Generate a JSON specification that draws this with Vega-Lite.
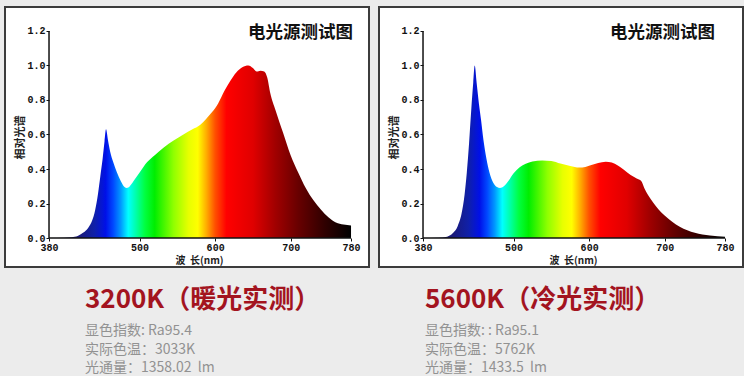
{
  "$schema": "https://vega.github.io/schema/vega-lite/v6.json",
  "background": "#ececec",
  "padding": {"left": 4, "top": 6, "right": 0, "bottom": 0},
  "spacing": 8,
  "config": {
    "view": {"stroke": "#3c3c3c", "strokeWidth": 2, "fill": "white"},
    "axis": {
      "domain": false, "grid": false,
      "labelFont": "Liberation Mono", "labelFontWeight": "bold", "labelFontSize": 10, "labelColor": "#111",
      "tickColor": "#111", "tickSize": 3, "tickWidth": 1, "labelPadding": 1,
      "labelFlush": false, "labelOverlap": false, "labelBound": false,
      "titleFont": "Noto Sans CJK SC", "titleFontWeight": "bold", "titleFontSize": 11, "titleColor": "#222"
    },
    "title": {
      "orient": "bottom", "anchor": "start", "offset": 20,
      "font": "Noto Sans CJK SC", "fontSize": 26, "fontWeight": "bold", "color": "#a3141f",
      "subtitleFont": "Noto Sans CJK SC", "subtitleFontSize": 14, "subtitleColor": "#929292",
      "subtitleLineHeight": 18.5, "subtitlePadding": 11
    }
  },
  "hconcat": [
    {
      "width": 364, "height": 260,
      "title": {"text": "3200K（暖光实测）", "subtitle": ["显色指数: Ra95.4", "实际色温：3033K", "光通量：1358.02\u00a0\u00a0lm"], "dx": 80},
      "layer": [
        {
          "data": {"values": [
            {"nm": 380, "v": 0}, {"nm": 400, "v": 0.002}, {"nm": 410, "v": 0.005}, {"nm": 418, "v": 0.012},
            {"nm": 425, "v": 0.03}, {"nm": 432, "v": 0.06}, {"nm": 437, "v": 0.1}, {"nm": 441, "v": 0.16},
            {"nm": 445, "v": 0.26}, {"nm": 448, "v": 0.36}, {"nm": 451, "v": 0.46}, {"nm": 453.5, "v": 0.56},
            {"nm": 455.5, "v": 0.63}, {"nm": 458, "v": 0.57}, {"nm": 461, "v": 0.5}, {"nm": 465, "v": 0.44},
            {"nm": 470, "v": 0.38}, {"nm": 475, "v": 0.33}, {"nm": 480, "v": 0.295}, {"nm": 483, "v": 0.29},
            {"nm": 487, "v": 0.3}, {"nm": 492, "v": 0.33}, {"nm": 500, "v": 0.38}, {"nm": 510, "v": 0.44},
            {"nm": 520, "v": 0.48}, {"nm": 532, "v": 0.525}, {"nm": 545, "v": 0.565}, {"nm": 558, "v": 0.6},
            {"nm": 570, "v": 0.63}, {"nm": 580, "v": 0.655}, {"nm": 588, "v": 0.69}, {"nm": 596, "v": 0.73},
            {"nm": 604, "v": 0.78}, {"nm": 612, "v": 0.85}, {"nm": 620, "v": 0.91}, {"nm": 628, "v": 0.96},
            {"nm": 636, "v": 0.99}, {"nm": 644, "v": 1.0}, {"nm": 650, "v": 0.985}, {"nm": 655, "v": 0.965},
            {"nm": 660, "v": 0.97}, {"nm": 665, "v": 0.965}, {"nm": 669, "v": 0.93}, {"nm": 673, "v": 0.84},
            {"nm": 680, "v": 0.74}, {"nm": 690, "v": 0.61}, {"nm": 700, "v": 0.48}, {"nm": 710, "v": 0.38},
            {"nm": 720, "v": 0.29}, {"nm": 730, "v": 0.22}, {"nm": 740, "v": 0.165}, {"nm": 750, "v": 0.12},
            {"nm": 760, "v": 0.09}, {"nm": 770, "v": 0.078}, {"nm": 780, "v": 0.072}
          ]},
          "mark": {"type": "area", "interpolate": "monotone", "color": {
            "gradient": "linear", "x1": 0, "x2": 1, "y1": 0, "y2": 0,
            "stops": [
              {"offset": 0, "color": "#10104a"}, {"offset": 0.1, "color": "#1a1a7a"},
              {"offset": 0.15, "color": "#1020a8"}, {"offset": 0.1875, "color": "#0010e8"},
              {"offset": 0.2125, "color": "#0048ff"}, {"offset": 0.2375, "color": "#0098ff"},
              {"offset": 0.2625, "color": "#00ffff"}, {"offset": 0.2875, "color": "#00ffaa"},
              {"offset": 0.3175, "color": "#00ff40"}, {"offset": 0.35, "color": "#00ee00"},
              {"offset": 0.4125, "color": "#90ff00"}, {"offset": 0.4625, "color": "#e8ff00"},
              {"offset": 0.4925, "color": "#ffff00"}, {"offset": 0.52, "color": "#ffb000"},
              {"offset": 0.55, "color": "#ff5000"}, {"offset": 0.5875, "color": "#ff0000"},
              {"offset": 0.675, "color": "#e00000"}, {"offset": 0.75, "color": "#a00000"},
              {"offset": 0.825, "color": "#680000"}, {"offset": 0.9125, "color": "#300000"},
              {"offset": 1, "color": "#000000"}
            ]}},
          "encoding": {
            "x": {"field": "nm", "type": "quantitative", "scale": {"domain": [321.7, 803.8], "nice": false, "zero": false},
                  "axis": {"values": [380, 500, 600, 700, 780], "offset": -29, "title": "波\u00a0\u00a0长(nm)", "titleX": 194, "titlePadding": 3, "titleFontSize": 10}},
            "y": {"field": "v", "type": "quantitative", "scale": {"domain": [-0.168, 1.339], "nice": false, "zero": false},
                  "axis": {"values": [0, 0.2, 0.4, 0.6, 0.8, 1.0, 1.2], "format": ".1f", "offset": -44, "title": "相对光谱", "titlePadding": 1}}
          }
        },
        {
          "data": {"values": [{"x": 380, "y": 0, "x2": 780, "y2": 0}, {"x": 380, "y": 0, "x2": 380, "y2": 1.2}]},
          "mark": {"type": "rule", "color": "#111", "strokeWidth": 1.5},
          "encoding": {
            "x": {"field": "x", "type": "quantitative"}, "x2": {"field": "x2"},
            "y": {"field": "y", "type": "quantitative"}, "y2": {"field": "y2"}
          }
        },
        {
          "data": {"values": [{"x": 780, "y": 1.2, "label": "电光源测试图"}]},
          "mark": {"type": "text", "align": "right", "baseline": "middle", "dx": 2, "dy": 2, "font": "Noto Sans CJK SC", "fontWeight": "bold", "fontSize": 17.5, "color": "#111"},
          "encoding": {
            "x": {"field": "x", "type": "quantitative"},
            "y": {"field": "y", "type": "quantitative"},
            "text": {"field": "label"}
          }
        }
      ]
    },
    {
      "width": 364, "height": 260,
      "title": {"text": "5600K（冷光实测）", "subtitle": ["显色指数: : Ra95.1", "实际色温：5762K", "光通量：1433.5\u00a0\u00a0lm"], "dx": 46},
      "layer": [
        {
          "data": {"values": [
            {"nm": 380, "v": 0}, {"nm": 400, "v": 0.002}, {"nm": 412, "v": 0.008}, {"nm": 420, "v": 0.03},
            {"nm": 426, "v": 0.07}, {"nm": 431, "v": 0.14}, {"nm": 435, "v": 0.25}, {"nm": 438, "v": 0.38},
            {"nm": 441, "v": 0.55}, {"nm": 444, "v": 0.75}, {"nm": 446.5, "v": 0.9}, {"nm": 448.5, "v": 1.0},
            {"nm": 451, "v": 0.9}, {"nm": 454, "v": 0.78}, {"nm": 457, "v": 0.68}, {"nm": 460, "v": 0.57},
            {"nm": 464, "v": 0.46}, {"nm": 468, "v": 0.38}, {"nm": 473, "v": 0.32}, {"nm": 478, "v": 0.295},
            {"nm": 482, "v": 0.29}, {"nm": 487, "v": 0.3}, {"nm": 493, "v": 0.33}, {"nm": 500, "v": 0.375},
            {"nm": 508, "v": 0.41}, {"nm": 516, "v": 0.43}, {"nm": 525, "v": 0.443}, {"nm": 538, "v": 0.45},
            {"nm": 550, "v": 0.447}, {"nm": 562, "v": 0.432}, {"nm": 575, "v": 0.418}, {"nm": 587, "v": 0.408},
            {"nm": 595, "v": 0.412}, {"nm": 603, "v": 0.423}, {"nm": 612, "v": 0.435}, {"nm": 622, "v": 0.442},
            {"nm": 630, "v": 0.437}, {"nm": 638, "v": 0.42}, {"nm": 646, "v": 0.395}, {"nm": 655, "v": 0.365},
            {"nm": 663, "v": 0.345}, {"nm": 669, "v": 0.33}, {"nm": 673, "v": 0.29}, {"nm": 678, "v": 0.25},
            {"nm": 685, "v": 0.205}, {"nm": 692, "v": 0.165}, {"nm": 700, "v": 0.13}, {"nm": 710, "v": 0.095},
            {"nm": 720, "v": 0.066}, {"nm": 730, "v": 0.045}, {"nm": 740, "v": 0.03}, {"nm": 750, "v": 0.02},
            {"nm": 760, "v": 0.014}, {"nm": 780, "v": 0.008}
          ]},
          "mark": {"type": "area", "interpolate": "monotone", "color": {
            "gradient": "linear", "x1": 0, "x2": 1, "y1": 0, "y2": 0,
            "stops": [
              {"offset": 0, "color": "#10104a"}, {"offset": 0.1, "color": "#1a1a7a"},
              {"offset": 0.15, "color": "#1020a8"}, {"offset": 0.1875, "color": "#0010e8"},
              {"offset": 0.2125, "color": "#0048ff"}, {"offset": 0.2375, "color": "#0098ff"},
              {"offset": 0.2625, "color": "#00ffff"}, {"offset": 0.2875, "color": "#00ffaa"},
              {"offset": 0.3175, "color": "#00ff40"}, {"offset": 0.35, "color": "#00ee00"},
              {"offset": 0.4125, "color": "#90ff00"}, {"offset": 0.4625, "color": "#e8ff00"},
              {"offset": 0.4925, "color": "#ffff00"}, {"offset": 0.52, "color": "#ffb000"},
              {"offset": 0.55, "color": "#ff5000"}, {"offset": 0.5875, "color": "#ff0000"},
              {"offset": 0.675, "color": "#e00000"}, {"offset": 0.75, "color": "#a00000"},
              {"offset": 0.825, "color": "#680000"}, {"offset": 0.9125, "color": "#300000"},
              {"offset": 1, "color": "#000000"}
            ]}},
          "encoding": {
            "x": {"field": "nm", "type": "quantitative", "scale": {"domain": [321.7, 803.8], "nice": false, "zero": false},
                  "axis": {"values": [380, 500, 600, 700, 780], "offset": -29, "title": "波\u00a0\u00a0长(nm)", "titleX": 194, "titlePadding": 3, "titleFontSize": 10}},
            "y": {"field": "v", "type": "quantitative", "scale": {"domain": [-0.168, 1.339], "nice": false, "zero": false},
                  "axis": {"values": [0, 0.2, 0.4, 0.6, 0.8, 1.0, 1.2], "format": ".1f", "offset": -44, "title": "相对光谱", "titlePadding": 1}}
          }
        },
        {
          "data": {"values": [{"x": 380, "y": 0, "x2": 780, "y2": 0}, {"x": 380, "y": 0, "x2": 380, "y2": 1.2}]},
          "mark": {"type": "rule", "color": "#111", "strokeWidth": 1.5},
          "encoding": {
            "x": {"field": "x", "type": "quantitative"}, "x2": {"field": "x2"},
            "y": {"field": "y", "type": "quantitative"}, "y2": {"field": "y2"}
          }
        },
        {
          "data": {"values": [{"x": 780, "y": 1.2, "label": "电光源测试图"}]},
          "mark": {"type": "text", "align": "right", "baseline": "middle", "dx": -10, "dy": 2, "font": "Noto Sans CJK SC", "fontWeight": "bold", "fontSize": 17.5, "color": "#111"},
          "encoding": {
            "x": {"field": "x", "type": "quantitative"},
            "y": {"field": "y", "type": "quantitative"},
            "text": {"field": "label"}
          }
        }
      ]
    }
  ]
}
